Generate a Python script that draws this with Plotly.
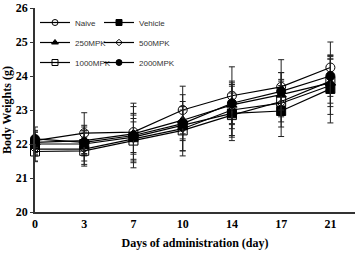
import plotly.graph_objects as go

days = ["0", "3", "7", "10", "14", "17", "21"]
naive = [22.10, 22.32, 22.35, 23.00, 23.42, 23.68, 24.25]
vehicle = [22.00, 22.00, 22.20, 22.55, 22.90, 22.97, 23.62]
mpk250 = [22.05, 22.10, 22.30, 22.70, 23.15, 23.45, 23.80]
mpk500 = [21.85, 21.85, 22.15, 22.45, 23.00, 23.20, 23.72]
mpk1000 = [21.78, 21.80, 22.10, 22.40, 22.85, 23.25, 23.85]
mpk2000 = [22.15, 22.05, 22.25, 22.60, 23.20, 23.55, 24.00]

err_naive = [0.40, 0.60, 0.85, 0.70, 0.85, 0.80, 0.75]
err_vehicle = [0.35, 0.50, 0.90, 0.90, 0.80, 0.75, 1.00]
err_250 = [0.30, 0.45, 0.60, 0.55, 0.70, 0.65, 0.70]
err_500 = [0.35, 0.50, 0.70, 0.65, 0.75, 0.70, 0.85]
err_1000 = [0.30, 0.40, 0.55, 0.60, 0.65, 0.60, 0.65]
err_2000 = [0.25, 0.35, 0.50, 0.50, 0.60, 0.55, 0.60]

series = [
    ("Naive", naive, err_naive, "circle-open", 9, "legend"),
    ("Vehicle", vehicle, err_vehicle, "square", 9, "legend2"),
    ("250MPK", mpk250, err_250, "triangle-up", 9, "legend"),
    ("500MPK", mpk500, err_500, "diamond-open", 6, "legend2"),
    ("1000MPK", mpk1000, err_1000, "square-open", 9, "legend"),
    ("2000MPK", mpk2000, err_2000, "circle", 9, "legend2"),
]

xidx = list(range(len(days)))

fig = go.Figure()
for i, (name, vals, err, sym, sz, lg) in enumerate(series):
    fig.add_trace(go.Scatter(
        x=xidx, y=vals, name=name, mode="lines+markers",
        line=dict(color="black", width=1.2),
        marker=dict(symbol=sym, size=sz, color="black",
                    line=dict(color="black", width=1)),
        error_y=dict(type="data", array=err, visible=True,
                     color="#222", thickness=1, width=3),
        cliponaxis=False, showlegend=False,
    ))
    # legend-only entry with smaller marker
    fig.add_trace(go.Scatter(
        x=[None], y=[None], name=name, mode="lines+markers",
        line=dict(color="black", width=1.2),
        marker=dict(symbol=sym, size=max(sz - 3, 5), color="black",
                    line=dict(color="black", width=1)),
        legend=lg, legendgroup=name, showlegend=True,
    ))

serif = "Liberation Serif"
legfont = dict(family="Liberation Sans", size=8, color="#333")
fig.update_layout(
    width=357, height=253,
    margin=dict(l=35, r=2, t=8, b=41),
    paper_bgcolor="white", plot_bgcolor="white",
    showlegend=True,
    legend=dict(x=0.0, y=1.0, xanchor="left", yanchor="top",
                font=legfont, bgcolor="rgba(0,0,0,0)",
                tracegroupgap=1, itemwidth=30),
    legend2=dict(x=0.2, y=1.0, xanchor="left", yanchor="top",
                 font=legfont, bgcolor="rgba(0,0,0,0)",
                 tracegroupgap=1, itemwidth=30),
    xaxis=dict(
        range=[0, 6.5], tickmode="array", tickvals=xidx, ticktext=days,
        showline=True, linecolor="#333", linewidth=2, showgrid=False,
        zeroline=False, ticks="",
        tickfont=dict(family=serif, size=12, color="black", weight="bold"),
        title=dict(text="<b>Days of administration (day)</b>",
                   font=dict(family=serif, size=12, color="black"), standoff=8),
    ),
    yaxis=dict(
        range=[20, 26], dtick=1, showline=True, linecolor="#333", linewidth=1.5,
        showgrid=False, zeroline=False, ticks="outside", ticklen=3,
        tickcolor="#333",
        tickfont=dict(family=serif, size=12, color="black", weight="bold"),
        title=dict(text="<b>Body Weights (g)</b>",
                   font=dict(family=serif, size=12, color="black"), standoff=4),
    ),
)

fig.write_html("out.html")
